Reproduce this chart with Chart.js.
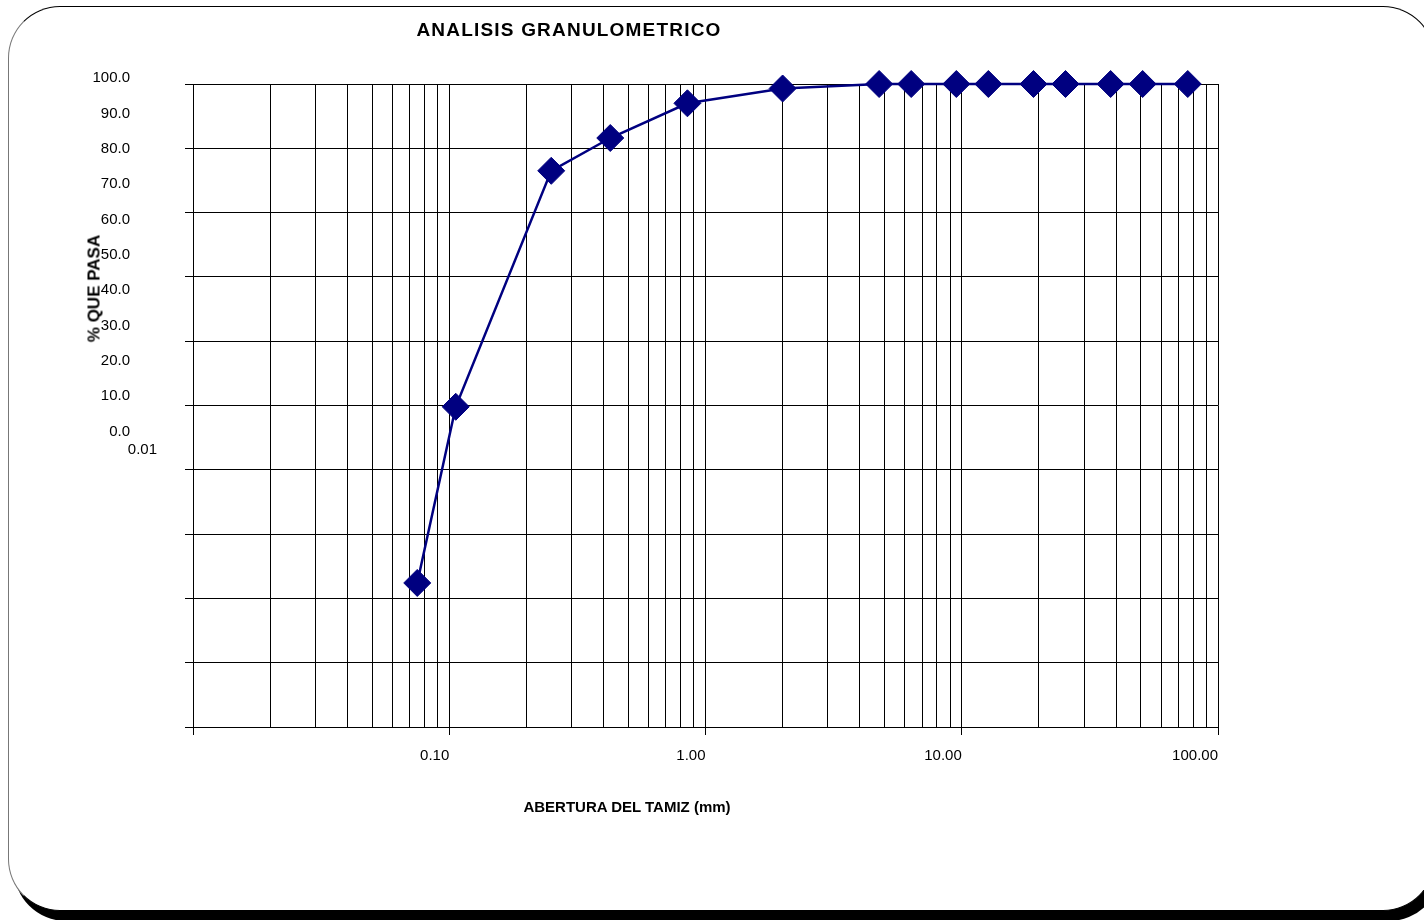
<!DOCTYPE html>
<html lang="es">
<head>
  <meta charset="UTF-8">
  <title>Analisis Granulometrico</title>
  <script src="https://cdn.jsdelivr.net/npm/chart.js"></script>
  <style>
    body { margin: 0; width: 1424px; height: 920px; overflow: hidden; background: #fff; position: relative; font-family: "Liberation Sans", Arial, sans-serif; }
    .frame { position: absolute; left: 8px; top: 6px; width: 1425px; height: 903px; border: 1px solid #000; border-left-color: #777; border-radius: 52px; box-shadow: 6px 10px 0 #000; background: #fff; }
    canvas { position: absolute; left: 0; top: 0; }
    .txt { position: absolute; font-weight: bold; color: #000; white-space: nowrap; }
    #title { left: 569px; top: 20px; font-size: 19px; line-height: 19px; letter-spacing: 1.2px; transform: translateX(-50%); }
    #xtitle { left: 627px; top: 799px; font-size: 15px; line-height: 15px; transform: translateX(-50%); }
    #ytitle { left: -6px; top: 280px; width: 200px; text-align: center; font-size: 17px; line-height: 17px; transform: rotate(-90deg); }
  </style>
</head>
<body>
  <div class="frame"></div>
  <canvas id="granChart" width="1424" height="920"></canvas>
  <div class="txt" id="title">ANALISIS GRANULOMETRICO</div>
  <div class="txt" id="ytitle">% QUE PASA</div>
  <div class="txt" id="xtitle">ABERTURA DEL TAMIZ (mm)</div>

  <script>
    // sieve openings (mm) and % passing
    const sieveSizes = [76.2, 50.8, 38.1, 25.4, 19.05, 12.7, 9.525, 6.35, 4.76, 2.0, 0.85, 0.425, 0.25, 0.106, 0.075];
    const percentPassing = [100, 100, 100, 100, 100, 100, 100, 100, 100, 99.3, 97.0, 91.6, 86.5, 49.8, 22.4];

    // axis labels
    const xMajorValues = [0.01, 0.1, 1, 10, 100];
    const xTickLabels = ['0.01', '0.10', '1.00', '10.00', '100.00'];
    const yTickLabels = ['100.0', '90.0', '80.0', '70.0', '60.0', '50.0', '40.0', '30.0', '20.0', '10.0', '0.0'];

    const font = '"Liberation Sans", Arial, sans-serif';
    const navy = '#000080';

    // log grid: 1..9 in every decade
    function logGrid() {
      const vals = [];
      for (let e = -2; e <= 1; e++) {
        for (let d = 1; d <= 9; d++) vals.push(Number((d * Math.pow(10, e)).toPrecision(3)));
      }
      vals.push(100);
      return vals;
    }
    const isMajor = v => xMajorValues.some(m => Math.abs(m - v) < 1e-9);

    // Excel left the value labels out of step with the gridlines
    const looseLabels = {
      id: 'looseLabels',
      afterDraw(chart) {
        const ctx = chart.ctx;
        const area = chart.chartArea;
        const step = area.height * 0.055;
        ctx.save();
        ctx.font = '15px ' + font;
        ctx.fillStyle = '#000';
        ctx.textAlign = 'right';
        ctx.textBaseline = 'middle';
        yTickLabels.forEach((lab, i) => {
          ctx.fillText(lab, area.left - 63, area.top - 6 + i * step);
        });
        ctx.fillText(xTickLabels[0], area.left - 36, area.top - 6 + 10 * step + 18);
        ctx.restore();
      }
    };

    const ctx = document.getElementById('granChart').getContext('2d');
    const granChart = new Chart(ctx, {
      type: 'line',
      data: {
        datasets: [{
          data: sieveSizes.map((s, i) => ({ x: s, y: percentPassing[i] })),
          borderColor: navy,
          borderWidth: 2.5,
          backgroundColor: navy,
          pointStyle: 'rectRot',
          pointRadius: 13.5,
          pointHoverRadius: 13.5,
          pointBackgroundColor: navy,
          pointBorderColor: navy,
          pointBorderWidth: 1,
          tension: 0,
          clip: false
        }]
      },
      options: {
        responsive: false,
        animation: false,
        devicePixelRatio: 1,
        layout: { padding: { top: 84, right: 206, left: 0, bottom: 0 } },
        plugins: {
          legend: { display: false },
          tooltip: { enabled: false }
        },
        scales: {
          x: {
            type: 'logarithmic',
            position: 'bottom',
            min: 0.01,
            max: 100,
            afterBuildTicks(scale) {
              scale.ticks = logGrid().map(v => ({ value: v, major: isMajor(v) }));
            },
            afterFit(scale) { scale.height = 193; },
            grid: {
              color: '#000',
              lineWidth: 1,
              drawTicks: true,
              tickLength: 8,
              tickColor: c => (c.tick && isMajor(c.tick.value)) ? '#000' : 'rgba(0,0,0,0)'
            },
            border: { display: true, color: '#000', width: 1 },
            ticks: {
              autoSkip: false,
              maxRotation: 0,
              minRotation: 0,
              align: 'end',
              padding: 12,
              color: '#000',
              font: { family: font, size: 15 },
              callback(value) {
                const k = xMajorValues.findIndex(m => Math.abs(m - value) < 1e-9);
                return k > 0 ? xTickLabels[k] : '';
              }
            }
          },
          y: {
            type: 'linear',
            min: 0,
            max: 100,
            afterFit(scale) { scale.width = 193; },
            grid: {
              color: '#000',
              lineWidth: 1,
              drawTicks: true,
              tickLength: 8,
              tickColor: '#000'
            },
            border: { display: true, color: '#000', width: 1 },
            ticks: { stepSize: 10, display: false }
          }
        }
      },
      plugins: [looseLabels]
    });
  </script>
</body>
</html>
